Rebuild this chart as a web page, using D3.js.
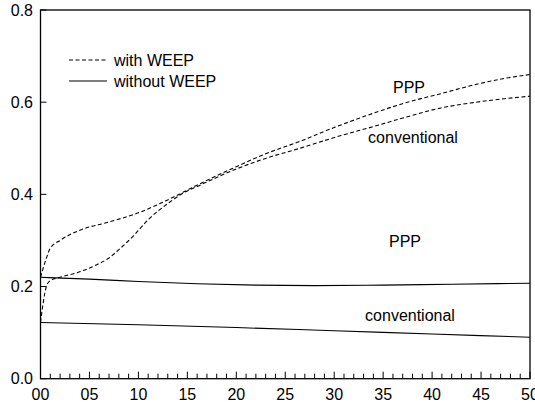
<!DOCTYPE html>
<html>
<head>
<meta charset="utf-8">
<script src="https://cdn.jsdelivr.net/npm/d3@7"></script>
<style>
  body { margin: 0; background: #fff; }
  svg text { font-family: "Liberation Sans", Arial, sans-serif; fill: #000; }
</style>
</head>
<body>
<script>
// years after start (00..50)
var pppWeepX = [0, 0.5, 1, 2, 4, 7, 10, 13, 16, 20, 23, 26.5, 30, 34, 37.5, 41, 44, 47.5, 50];
var pppWeepY = [0.22, 0.255, 0.283, 0.300, 0.322, 0.340, 0.360, 0.388, 0.420, 0.460, 0.488, 0.515, 0.545, 0.576, 0.600, 0.619, 0.636, 0.652, 0.660];

var convWeepX = [0, 0.6, 1, 2, 4, 6, 7, 8, 9.5, 11, 13, 14.6, 16.3, 20, 23, 26.5, 30.6, 34, 37.4, 40.8, 44.2, 47.6, 50];
var convWeepY = [0.122, 0.200, 0.213, 0.220, 0.232, 0.250, 0.262, 0.280, 0.310, 0.345, 0.380, 0.403, 0.420, 0.455, 0.478, 0.500, 0.527, 0.547, 0.568, 0.587, 0.599, 0.608, 0.613];

var pppX = [0, 5, 10, 16, 22, 28, 35, 42, 50];
var pppY = [0.220, 0.216, 0.211, 0.206, 0.203, 0.202, 0.203, 0.205, 0.207];

var convX = [0, 10, 20, 30, 40, 50];
var convY = [0.122, 0.117, 0.111, 0.104, 0.097, 0.090];

var yTicks = [0, 0.2, 0.4, 0.6, 0.8];
var xLabels = ["00", "05", "10", "15", "20", "25", "30", "35", "40", "45", "50"];

var W = 535, H = 404;
var plotL = 40.5, plotR = 530, plotT = 10, plotB = 378.7;

var svg = d3.select("body").append("svg")
    .attr("width", W)
    .attr("height", H);

var x = d3.scaleLinear().domain([0, 50]).range([plotL, plotR]);
var y = d3.scaleLinear().domain([0, 0.8]).range([plotB, plotT]);

// frame
svg.append("rect")
    .attr("x", plotL).attr("y", plotT)
    .attr("width", plotR - plotL).attr("height", plotB - plotT)
    .attr("fill", "none").attr("stroke", "#000").attr("stroke-width", 1.3);

// x ticks: minor every year, major every 5, pointing inward
svg.append("g").selectAll("line")
    .data(d3.range(0, 51))
    .enter().append("line")
    .attr("x1", function(d){ return x(d); })
    .attr("x2", function(d){ return x(d); })
    .attr("y1", plotB)
    .attr("y2", function(d){ return d % 5 === 0 ? plotB - 7 : plotB - 5; })
    .attr("stroke", "#000").attr("stroke-width", 1);

svg.append("g").selectAll("text")
    .data(xLabels)
    .enter().append("text")
    .attr("x", function(d){ return x(+d); })
    .attr("y", 400)
    .attr("text-anchor", "middle")
    .style("font-size", "16px")
    .text(function(d){ return d; });

// y ticks
svg.append("g").selectAll("line")
    .data(yTicks)
    .enter().append("line")
    .attr("x1", plotL).attr("x2", plotL + 6)
    .attr("y1", function(d){ return y(d); })
    .attr("y2", function(d){ return y(d); })
    .attr("stroke", "#000").attr("stroke-width", 1);

svg.append("g").selectAll("text")
    .data(yTicks)
    .enter().append("text")
    .attr("x", 33)
    .attr("y", function(d){ return y(d); })
    .attr("dy", "0.36em")
    .attr("text-anchor", "end")
    .style("font-size", "16px")
    .text(function(d){ return d.toFixed(1); });

// series
function drawLine(xs, ys, dashed) {
    var pts = xs.map(function(v, i){ return [v, ys[i]]; });
    var line = d3.line()
        .x(function(d){ return x(d[0]); })
        .y(function(d){ return y(d[1]); })
        .curve(d3.curveMonotoneX);
    svg.append("path")
        .datum(pts)
        .attr("d", line)
        .attr("fill", "none")
        .attr("stroke", "#000")
        .attr("stroke-width", 1.1)
        .attr("stroke-dasharray", dashed ? "4,2.5" : null);
}

drawLine(pppWeepX, pppWeepY, true);
drawLine(convWeepX, convWeepY, true);
drawLine(pppX, pppY, false);
drawLine(convX, convY, false);

// curve labels
var labels = [
    {t: "PPP", x: 409, y: 93},
    {t: "conventional", x: 413, y: 143},
    {t: "PPP", x: 405, y: 247},
    {t: "conventional", x: 410, y: 321}
];
svg.append("g").selectAll("text")
    .data(labels)
    .enter().append("text")
    .attr("x", function(d){ return d.x; })
    .attr("y", function(d){ return d.y; })
    .attr("text-anchor", "middle")
    .style("font-size", "16px")
    .text(function(d){ return d.t; });

// legend
var legend = svg.append("g");
legend.append("line")
    .attr("x1", 69).attr("x2", 107).attr("y1", 60).attr("y2", 60)
    .attr("stroke", "#000").attr("stroke-width", 1.1)
    .attr("stroke-dasharray", "4,2.5");
legend.append("text")
    .attr("x", 114).attr("y", 60).attr("dy", "0.36em")
    .style("font-size", "16px")
    .text("with WEEP");
legend.append("line")
    .attr("x1", 69).attr("x2", 107).attr("y1", 81).attr("y2", 81)
    .attr("stroke", "#000").attr("stroke-width", 1.1);
legend.append("text")
    .attr("x", 114).attr("y", 81).attr("dy", "0.36em")
    .style("font-size", "16px")
    .text("without WEEP");
</script>
</body>
</html>
